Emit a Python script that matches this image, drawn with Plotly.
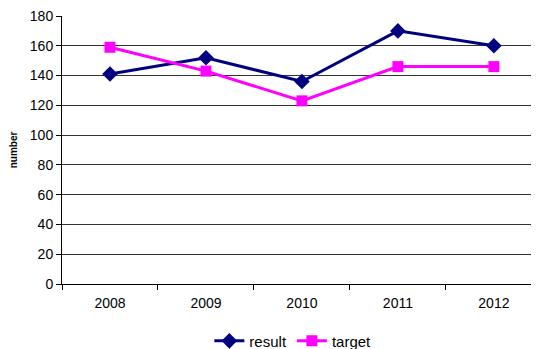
import plotly.graph_objects as go

years = ['2008', '2009', '2010', '2011', '2012']
result = [141, 152, 136, 170, 160]
target = [159, 143, 123, 146, 146]

fig = go.Figure()

fig.add_trace(go.Scatter(x=years, y=result, name='result',
                         mode='lines+markers',
                         line=dict(color='#000080', width=3),
                         marker=dict(symbol='diamond', size=12, color='#000080')))

fig.add_trace(go.Scatter(x=years, y=target, name='target',
                         mode='lines+markers',
                         line=dict(color='#FF00FF', width=3),
                         marker=dict(symbol='square', size=11, color='#FF00FF')))

# page body has an 8px margin, so the figure is a bit smaller than the window
fig.update_layout(
    width=531, height=341,
    margin=dict(l=54, r=0, t=8, b=65, autoexpand=False),
    plot_bgcolor='white', paper_bgcolor='white',
    font=dict(family='Liberation Sans, Arial', size=14, color='black'),
    showlegend=True,
    legend=dict(orientation='h', x=0.484, xanchor='center', y=-0.213, yanchor='middle',
                font=dict(size=15), itemwidth=30, tracegroupgap=0),
)

# the plot area runs past the right edge of the picture in the original
fig.update_xaxes(type='category', range=[-0.5, 4.47], tickson='boundaries',
                 ticks='outside', ticklen=5,
                 showline=True, linecolor='black', linewidth=1, showgrid=False,
                 tickcolor='black', ticklabelstandoff=6)

fig.update_yaxes(range=[0, 180], dtick=20, ticks='outside', ticklen=5,
                 showline=True, linecolor='black', linewidth=1,
                 showgrid=True, gridcolor='#333333', gridwidth=1,
                 tickcolor='black', zeroline=False, ticklabeloverflow='allow',
                 title=dict(text='<b>number</b>', font=dict(size=10), standoff=10))

fig.write_html("out.html")
